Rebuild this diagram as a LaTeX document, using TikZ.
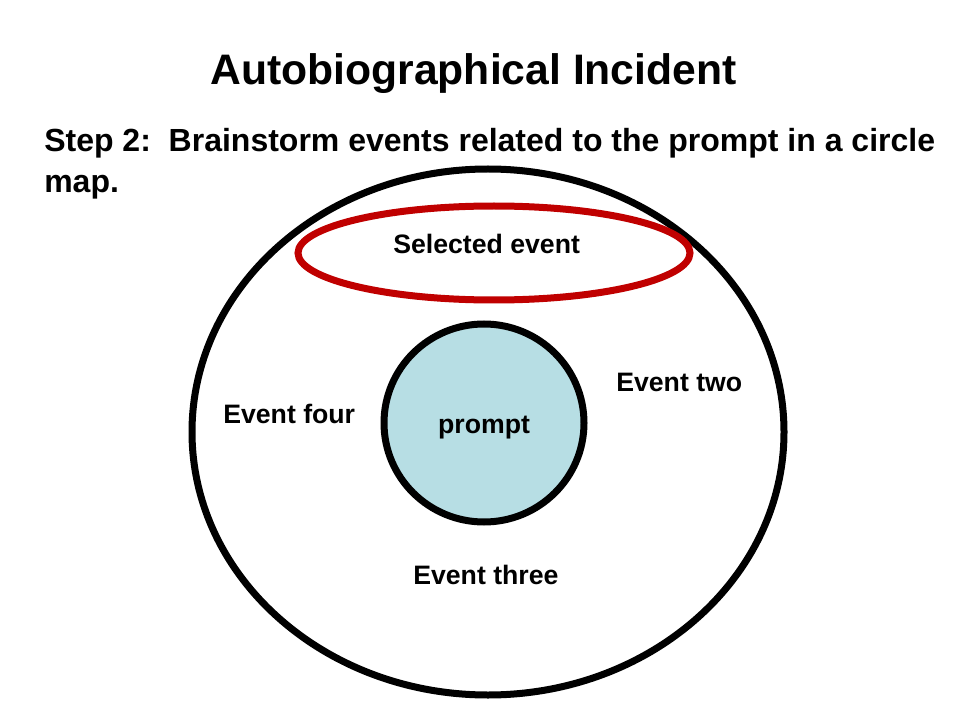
\documentclass[tikz,border=0pt]{standalone}
\usepackage{fontspec}
\setmainfont{Liberation Sans}
\usetikzlibrary{shapes.geometric}
\definecolor{selred}{RGB}{192,0,0}
\definecolor{promptblue}{RGB}{183,222,228}
\tikzset{
  ring/.style={draw=black, line width=5.25pt, ellipse, inner sep=0pt, outer sep=0pt},
  lbl/.style={font=\bfseries\fontsize{20}{24}\selectfont, inner sep=0pt, anchor=base west},
}
\begin{document}
\begin{tikzpicture}[x=0.75pt,y=-0.75pt]
\useasboundingbox[fill=white] (0,0) rectangle (960,720);
% title
\node[font=\bfseries\fontsize{32}{38}\selectfont, inner sep=0pt, anchor=base] (title) at (473.5,85) {Autobiographical Incident};
% step text (base anchor = last line's baseline)
\node[font=\bfseries\fontsize{24}{30.75}\selectfont, inner sep=0pt, anchor=base west, align=left] (step) at (44,193)
  {Step 2:\hspace{0.556em}Brainstorm events related to the prompt in a circle\\map.};
% outer circle map
\node[ring, minimum width=592*0.75pt, minimum height=526*0.75pt] (outer) at (488,432) {};
% selected event ellipse
\node[ring, draw=selred, minimum width=392*0.75pt, minimum height=94*0.75pt] (sel) at (494,253) {};
% inner prompt circle
\node[ring, fill=promptblue, minimum width=200*0.75pt, minimum height=198*0.75pt] (inner) at (484,423) {};
% labels
\node[lbl] (selt) at (393,254) {Selected event};
\node[lbl] (two) at (616,391) {Event two};
\node[lbl] (four) at (223,423) {Event four};
\node[lbl, anchor=base] (prompt) at (484,433) {prompt};
\node[lbl] (three) at (413,584) {Event three};
\end{tikzpicture}
\end{document}
